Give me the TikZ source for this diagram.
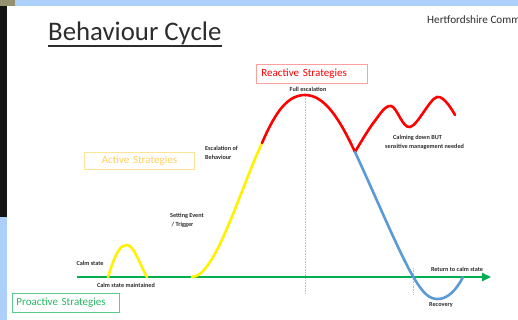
\documentclass[tikz,border=0pt]{standalone}
\usepackage{fontspec}
\setmainfont{Carlito}
\usetikzlibrary{arrows.meta}

\definecolor{slideblue}{RGB}{172,208,250}
\definecolor{calmgreen}{RGB}{0,176,80}
\definecolor{recblue}{RGB}{91,155,213}
\definecolor{labelgray}{RGB}{45,45,45}
\definecolor{reactbd}{RGB}{255,160,160}
\definecolor{activebd}{RGB}{255,228,150}
\definecolor{activetxt}{RGB}{255,208,90}
\definecolor{proactbd}{RGB}{90,205,140}
\definecolor{proacttxt}{RGB}{40,185,100}

\tikzset{
    lbl/.style={font=\fontsize{6.2}{9}\selectfont\bfseries, text=labelgray, inner sep=0pt},
    stratbox/.style={draw, line width=0.9pt, anchor=west, inner xsep=5pt, inner ysep=0pt,
        minimum height=19pt, align=left, font=\fontsize{11}{13}\selectfont},
    curve/.style={line width=2.6pt, line cap=round},
    guide/.style={densely dotted, line width=0.6pt, black!25}
}

\begin{document}
\begin{tikzpicture}[x=1pt, y=-1pt]
    \useasboundingbox (0,0) rectangle (518,320);
    \fill[white] (0,0) rectangle (518,320);
    % slide edges
    \fill[slideblue] (15,0) rectangle (518,6);
    \fill[black!60!olive!60] (0,0) rectangle (15,6);
    \fill[black!92] (0,6) rectangle (7,217);
    \fill[slideblue] (0,217) rectangle (7,320);

    % heading
    \node[font=\fontsize{26.8}{30}\selectfont, text=labelgray, inner sep=0pt, anchor=base west] (title) at (48,41) {Behaviour Cycle};
    \draw[labelgray, line width=1.2pt] ([yshift=-0.5pt]title.south west) -- ([yshift=-0.5pt]title.south east);
    \node[font=\fontsize{11.2}{12}\selectfont, text=labelgray, inner sep=0pt, anchor=base west] (trust) at (427,24) {Hertfordshire Comm};

    % dotted guides
    \draw[guide] (305,96) -- (305,294);
    \draw[guide] (413,268) -- (413,294);

    % calm state axis
    \coordinate (axisstart) at (77,277);
    \coordinate (axisend) at (491,277);
    \draw[calmgreen, line width=2.6pt, -{Triangle[length=9pt, width=8pt]}] (axisstart) -- (axisend);

    % the cycle
    \draw[curve, yellow] (108,277) .. controls (116,252) and (120,245) .. (127,245)
        .. controls (134,245) and (140,265) .. (147,277);
    \draw[curve, yellow] (192,277) .. controls (215,277) and (240,190) .. (262,143);
    \draw[curve, red] (262,143) .. controls (275,113) and (287,95) .. (305,95)
        .. controls (325,95) and (340,120) .. (355,152);
    \draw[curve, red] plot[smooth, tension=0.6] coordinates {(355,152) (374,122) (391,106) (410,127) (437,97) (455,115)};
    \draw[curve, recblue] (355,152) .. controls (375,195) and (400,255) .. (414,278)
        .. controls (424,295) and (430,299) .. (438,299)
        .. controls (448,299) and (457,289) .. (463,277);

    % strategy boxes
    \node[stratbox, draw=reactbd, text=red, text width=101pt] (reactive) at (256,73.5) {Reactive Strategies};
    \node[stratbox, draw=activebd, text=activetxt, text width=100pt, align=center, minimum height=17pt] (active) at (84,160.5) {Active Strategies};
    \node[stratbox, draw=proactbd, text=proacttxt, text width=99pt, inner xsep=4pt] (proactive) at (12,302.5) {Proactive Strategies};

    % labels
    \node[lbl] (fullesc) at (308,89) {Full escalation};
    \node[lbl, anchor=north west, align=left] (escalation) at (205,145.5) {Escalation of\\Behaviour};
    \node[lbl, anchor=north west, align=left] (setting) at (170,212.5) {Setting Event\\\ / Trigger};
    \node[lbl] (calm) at (90,263) {Calm state};
    \node[lbl] (maintained) at (126,285) {Calm state maintained};
    \node[lbl, anchor=north west, align=left] (calming) at (385,134.5) {\hspace*{8pt}Calming down BUT\\sensitive management needed};
    \node[lbl] (return) at (457,269) {Return to calm state};
    \node[lbl] (recovery) at (441,305) {Recovery};
\end{tikzpicture}
\end{document}
